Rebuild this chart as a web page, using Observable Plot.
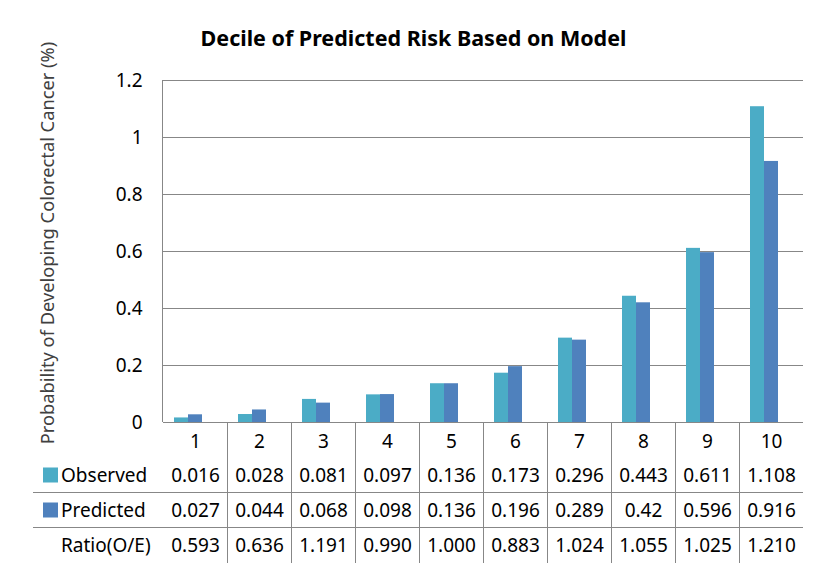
<!DOCTYPE html>
<html>
<head>
<meta charset="utf-8">
<script src="https://cdn.jsdelivr.net/npm/d3@7"></script>
<script src="https://cdn.jsdelivr.net/npm/@observablehq/plot@0.6"></script>
<style>
  html, body { margin: 0; padding: 0; background: #fff; }
  #wrap { position: relative; width: 827px; height: 573px; font-family: "Noto Sans", sans-serif; overflow: hidden; }
  #wrap svg.plot { position: absolute; left: 0; top: 0; }
  .title { position: absolute; left: 0; width: 827px; top: 38px; transform: translateY(-50%); text-align: center; font-weight: bold; font-size: 21.5px; color: #000; line-height: 1; }
  .ylabel { position: absolute; left: 47px; top: 243px; transform: translate(-50%, -50%) rotate(-90deg); white-space: nowrap; font-size: 18.3px; color: #404040; line-height: 1; }
  .rowlab { position: absolute; left: 61px; font-size: 19px; color: #000; transform: translateY(-50%); white-space: nowrap; line-height: 1.2; }
  .sw { position: absolute; left: 43px; width: 15px; height: 15px; transform: translateY(-50%); }
</style>
</head>
<body>
<div id="wrap"></div>
<script>
const deciles = ["1", "2", "3", "4", "5", "6", "7", "8", "9", "10"];
const observed = [0.016, 0.028, 0.081, 0.097, 0.136, 0.173, 0.296, 0.443, 0.611, 1.108];
const predicted = [0.027, 0.044, 0.068, 0.098, 0.136, 0.196, 0.289, 0.42, 0.596, 0.916];
const ratioLabels = ["0.593", "0.636", "1.191", "0.990", "1.000", "0.883", "1.024", "1.055", "1.025", "1.210"];
const seriesNames = ["Observed", "Predicted"];
const rowNames = ["Observed", "Predicted", "Ratio(O/E)"];
const yTicks = [0, 0.2, 0.4, 0.6, 0.8, 1, 1.2];
const colors = ["#4BACC6", "#4F81BD"];
const titleText = "Decile of Predicted Risk Based on Model";
const yLabelText = "Probability of Developing Colorectal Cancer (%)";

const bars = [];
deciles.forEach((d, i) => {
  bars.push({decile: d, series: "Observed", value: observed[i]});
  bars.push({decile: d, series: "Predicted", value: predicted[i]});
});
const table = deciles.map((d, i) => ({decile: d, obs: String(observed[i]), pred: String(predicted[i]), ratio: ratioLabels[i]}));

const W = 827, H = 573;
const mL = 162, mR = 24, mT = 80, mB = 151;
const gridColor = "#878787";
const rowOffsets = [19, 53, 88, 123];

const textOpts = {fx: "decile", frameAnchor: "bottom", lineAnchor: "middle", fontSize: 19, fill: "#000"};

const plot = Plot.plot({
  width: W,
  height: H,
  marginLeft: mL,
  marginRight: mR,
  marginTop: mT,
  marginBottom: mB,
  style: {fontFamily: "'Noto Sans', sans-serif", fontSize: "19px", color: "#000", background: "transparent"},
  fx: {domain: deciles, padding: 0, axis: null},
  x: {domain: seriesNames, paddingInner: 0, paddingOuter: 1.2, align: 0.3, axis: null},
  y: {domain: [0, 1.2], ticks: yTicks, tickSize: 0, tickPadding: 21, label: null, tickFormat: d => String(+d.toFixed(1))},
  color: {domain: seriesNames, range: colors},
  marks: [
    Plot.ruleY(yTicks, {stroke: gridColor, strokeWidth: 1}),
    Plot.barY(bars, {fx: "decile", x: "series", y: "value", fill: "series"}),
    Plot.ruleY([0], {stroke: gridColor, strokeWidth: 1}),
    Plot.text(table, {...textOpts, text: "decile", dy: rowOffsets[0]}),
    Plot.text(table, {...textOpts, text: "obs", dy: rowOffsets[1]}),
    Plot.text(table, {...textOpts, text: "pred", dy: rowOffsets[2]}),
    Plot.text(table, {...textOpts, text: "ratio", dy: rowOffsets[3]})
  ]
});
plot.classList.add("plot");
const wrap = document.getElementById("wrap");
wrap.appendChild(plot);

// Table grid lines, placed with the fx scale
let fxStart;
try {
  const fx = plot.scale("fx");
  fxStart = d => fx.apply(d);
} catch (e) {
  const step = (W - mL - mR) / deciles.length;
  fxStart = d => mL + deciles.indexOf(d) * step;
}
const svg = d3.select(plot);
const g = svg.append("g").attr("stroke", gridColor).attr("stroke-width", 1).attr("fill", "none");
const yBottom = H - mB;
const yTop = mT;
g.append("line").attr("x1", mL + 0.5).attr("x2", mL + 0.5).attr("y1", yTop).attr("y2", yBottom);
deciles.slice(1).forEach(d => {
  const x = Math.round(fxStart(d)) + 0.5;
  g.append("line").attr("x1", x).attr("x2", x).attr("y1", yBottom).attr("y2", 563);
});
[492, 527].forEach(y => {
  g.append("line").attr("x1", 33).attr("x2", W - mR).attr("y1", y + 0.5).attr("y2", y + 0.5);
});

const t = document.createElement("div"); t.className = "title"; t.textContent = titleText; wrap.appendChild(t);
const yl = document.createElement("div"); yl.className = "ylabel"; yl.textContent = yLabelText; wrap.appendChild(yl);
const rowY = rowOffsets.slice(1).map(o => H - mB + o);
rowNames.forEach((name, i) => {
  const l = document.createElement("div"); l.className = "rowlab"; l.style.top = rowY[i] + "px"; l.textContent = name; wrap.appendChild(l);
  if (i < 2) {
    const s = document.createElement("div"); s.className = "sw"; s.style.top = rowY[i] + "px"; s.style.background = colors[i]; wrap.appendChild(s);
  }
});
</script>
</body>
</html>
